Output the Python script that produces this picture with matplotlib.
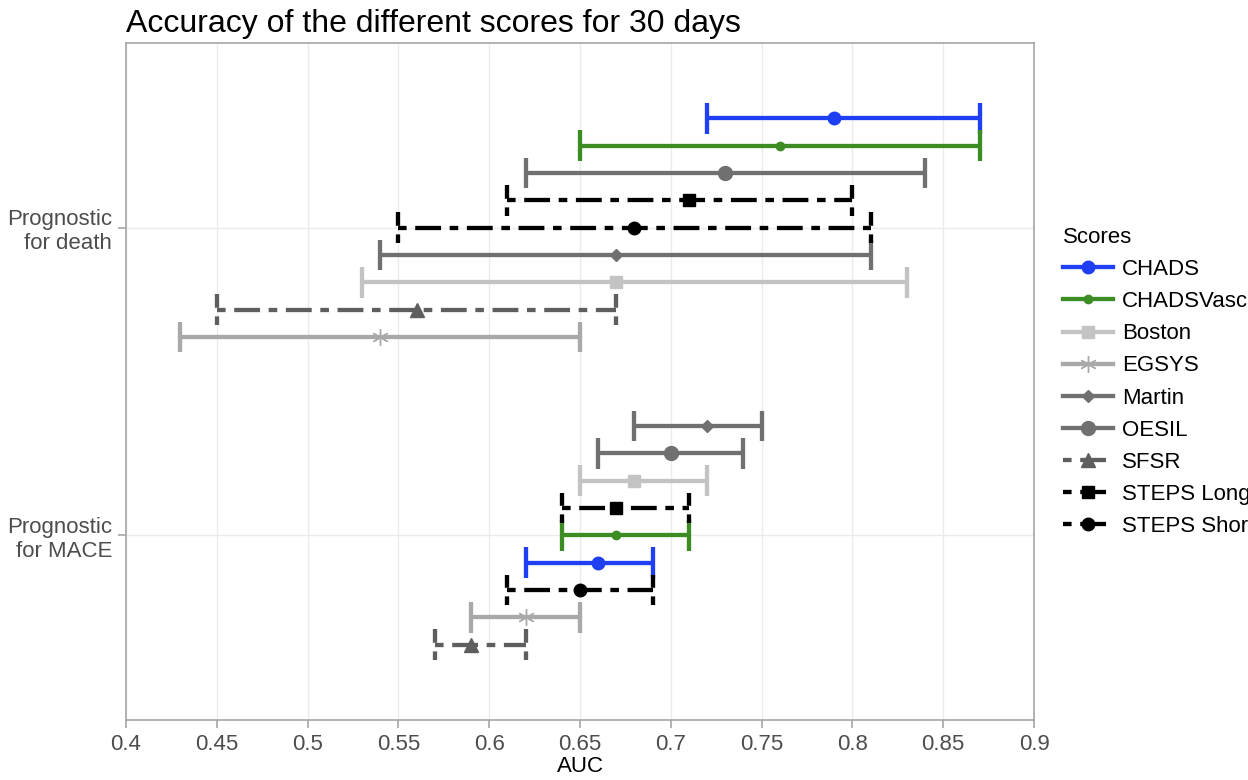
import matplotlib
matplotlib.use('Agg')
import matplotlib.pyplot as plt
from matplotlib.lines import Line2D

plt.rcParams['font.family'] = ['Liberation Sans', 'DejaVu Sans']

# Scores, their AUC estimates and confidence intervals
scores = ['CHADS', 'CHADSVasc', 'Boston', 'EGSYS', 'Martin', 'OESIL',
          'SFSR', 'STEPS Long', 'STEPS Short']

groups = ['Prognostic\nfor MACE', 'Prognostic\nfor death']

death_est = [0.79, 0.76, 0.67, 0.54, 0.67, 0.73, 0.56, 0.71, 0.68]
death_lo = [0.72, 0.65, 0.53, 0.43, 0.54, 0.62, 0.45, 0.61, 0.55]
death_hi = [0.87, 0.87, 0.83, 0.65, 0.81, 0.84, 0.67, 0.80, 0.81]
death_rank = [0, 1, 6, 8, 5, 2, 7, 3, 4]   # 0 = top of the group

mace_est = [0.66, 0.67, 0.68, 0.62, 0.72, 0.70, 0.59, 0.67, 0.65]
mace_lo = [0.62, 0.64, 0.65, 0.59, 0.68, 0.66, 0.57, 0.64, 0.61]
mace_hi = [0.69, 0.71, 0.72, 0.65, 0.75, 0.74, 0.62, 0.71, 0.69]
mace_rank = [5, 4, 2, 7, 0, 1, 8, 3, 6]

# Styles per score: colour, marker, marker size, dashed
styles = {
    'CHADS':       ('#1f3ff2', 'o', 9, False),
    'CHADSVasc':   ('#3b8c22', 'o', 6, False),
    'Boston':      ('#c3c3c3', 's', 9, False),
    'EGSYS':       ('#a9a9a9', (6, 2, 0), 12, False),
    'Martin':      ('#707070', 'D', 6, False),
    'OESIL':       ('#707070', 'o', 10, False),
    'SFSR':        ('#5e5e5e', '^', 10, True),
    'STEPS Long':  ('#000000', 's', 9, True),
    'STEPS Short': ('#000000', 'o', 9, True),
}

LW = 3.1
DASH = (2, 2, 6, 2)
step = 0.8 / 9
cap = 0.05

fig = plt.figure(figsize=(12.48, 7.8), dpi=100)
ax = fig.add_axes([126 / 1248, 1 - 720 / 780, 908 / 1248, 677 / 780])


def draw_group(ypos, est, lo, hi, rank):
    for i, name in enumerate(scores):
        col, mk, ms, dashed = styles[name]
        y = ypos + (4 - rank[i]) * step
        kw = dict(color=col, lw=LW, solid_capstyle='butt', dash_capstyle='butt')
        if dashed:
            kw['dashes'] = DASH
        ax.plot([lo[i], hi[i]], [y, y], zorder=3, **kw)
        for x in (lo[i], hi[i]):
            ax.plot([x, x], [y - cap, y + cap], zorder=3, **kw)
        if mk == (6, 2, 0):
            ax.plot(est[i], y, marker=mk, ms=ms, color=col, mew=1.0, zorder=4)
        else:
            ax.plot(est[i], y, marker=mk, ms=ms, color=col, mec=col, zorder=4)


draw_group(1, mace_est, mace_lo, mace_hi, mace_rank)
draw_group(2, death_est, death_lo, death_hi, death_rank)

ax.set_xlim(0.4, 0.9)
ax.set_ylim(0.4, 2.6)
xt = [0.4, 0.45, 0.5, 0.55, 0.6, 0.65, 0.7, 0.75, 0.8, 0.85, 0.9]
ax.set_xticks(xt)
ax.set_xticklabels(['%g' % v for v in xt])
ax.set_yticks([1, 2])
ax.set_yticklabels(groups, ha='right', multialignment='right')
ax.grid(True, color='#ebebeb', lw=1.0, zorder=0)
ax.set_axisbelow(True)
for s in ax.spines.values():
    s.set_color('#a6a6a6')
    s.set_linewidth(1.2)
ax.tick_params(axis='both', colors='#a6a6a6', length=6, width=1.2,
               labelsize=16, labelcolor='#4d4d4d')
ax.tick_params(axis='x', pad=4)
ax.tick_params(axis='y', pad=4)
ax.set_xlabel('AUC', fontsize=16, labelpad=1)

ax.set_title('Accuracy of the different scores for 30 days', loc='left',
             fontsize=23, pad=8)

# Legend
handles = []
for name in scores:
    col, mk, ms, dashed = styles[name]
    kw = dict(color=col, lw=LW, marker=mk, ms=ms, mec=col)
    if dashed:
        kw['dashes'] = DASH
    handles.append(Line2D([], [], **kw))
leg = fig.legend(handles, scores, title='Scores', loc='upper left',
                 bbox_to_anchor=(1043 / 1248, 1 - 207 / 780), frameon=False,
                 fontsize=16, title_fontsize=16, handlelength=2.25,
                 labelspacing=0.5, handletextpad=0.4)
leg._legend_box.align = 'left'

fig.savefig('out.png', dpi=100)
